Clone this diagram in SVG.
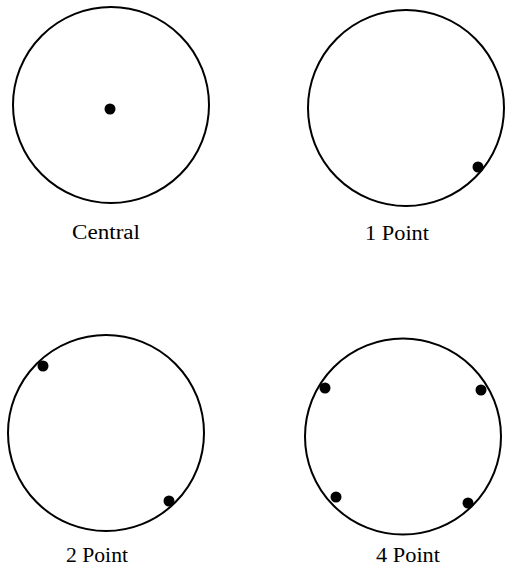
<svg xmlns="http://www.w3.org/2000/svg" width="507" height="567" viewBox="0 0 507 567">
<style>
.ring{fill:none;stroke:#000;stroke-width:2}
.dot{fill:#000}
.lbl{font-family:"Liberation Serif","Times New Roman",serif;font-size:20px;fill:#000}
</style>
<rect width="507" height="567" fill="#fff"/>
<g id="central">
<circle class="ring" cx="111" cy="105" r="98"/>
<circle class="dot" cx="110" cy="109" r="5.5"/>
<text class="lbl" x="72" y="239" textLength="68" lengthAdjust="spacingAndGlyphs">Central</text>
</g>
<g id="point1">
<circle class="ring" cx="406" cy="108" r="98"/>
<circle class="dot" cx="478" cy="167" r="5.5"/>
<text class="lbl" x="365" y="240" textLength="64" lengthAdjust="spacingAndGlyphs">1 Point</text>
</g>
<g id="point2">
<circle class="ring" cx="106" cy="433" r="98"/>
<circle class="dot" cx="43" cy="366" r="5.5"/>
<circle class="dot" cx="169" cy="501" r="5.5"/>
<text class="lbl" x="66" y="562" textLength="62" lengthAdjust="spacingAndGlyphs">2 Point</text>
</g>
<g id="point4">
<circle class="ring" cx="403" cy="436.5" r="98"/>
<circle class="dot" cx="325" cy="388" r="5.5"/>
<circle class="dot" cx="481" cy="390" r="5.5"/>
<circle class="dot" cx="336" cy="497" r="5.5"/>
<circle class="dot" cx="468" cy="503" r="5.5"/>
<text class="lbl" x="376" y="562" textLength="64" lengthAdjust="spacingAndGlyphs">4 Point</text>
</g>
<g id="connectors"/>
</svg>
